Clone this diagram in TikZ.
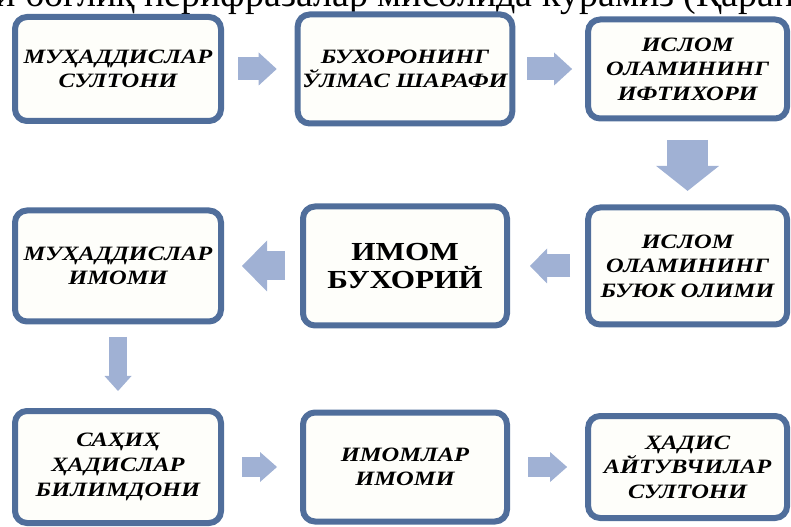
\documentclass[tikz,border=0pt]{standalone}
\usepackage{fontspec}
\setmainfont{Liberation Serif}
\newfontfamily\boxfont[FakeStretch=1.2]{Liberation Serif}
\usetikzlibrary{arrows.meta,shadows}
\definecolor{framecol}{RGB}{80,110,155}
\definecolor{arrowcol}{RGB}{160,177,212}
\definecolor{boxfill}{RGB}{254,254,250}

\begin{document}
\begin{tikzpicture}[
  card/.style={draw=framecol,line width=0.15cm,rounded corners=0.3cm,fill=boxfill,
    drop shadow={shadow xshift=0pt,shadow yshift=-0.06cm,opacity=0.3},
    align=center,font=\boxfont\fontsize{14.5}{17.5}\selectfont\bfseries\itshape},
  pointer/.style n args={3}{draw=arrowcol,line width=#1,-{Triangle[width=#2,length=#3,line width=0pt]}}]
\useasboundingbox (0,0) rectangle (19.775,-13.175);
\clip (0,0) rectangle (19.775,-13.175);
\node[anchor=base west,font=\fontsize{27}{32}\selectfont,inner sep=0pt] (head) at (-0.12,-0.17) {и боглиқ перифразалар мисолида курамиз (Қаранг};

\node[card,minimum width=5.15cm,minimum height=2.6cm] (sultan) at (2.95,-1.725) {МУҲАДДИСЛАР\\СУЛТОНИ};
\node[card,minimum width=5.1cm,minimum height=2.725cm] (sharaf) at (10.125,-1.725) {БУХОРОНИНГ\\ЎЛМАС ШАРАФИ};
\node[card,minimum width=4.975cm,minimum height=2.475cm] (iftixor) at (17.19,-1.725) {ИСЛОМ\\ОЛАМИНИНГ\\ИФТИХОРИ};
\node[card,minimum width=4.975cm,minimum height=2.925cm] (olim) at (17.19,-6.65) {ИСЛОМ\\ОЛАМИНИНГ\\БУЮК ОЛИМИ};
\node[card,minimum width=5.1cm,minimum height=2.975cm,font=\boxfont\fontsize{18.5}{20}\selectfont\bfseries] (buxoriy) at (10.125,-6.65) {ИМОМ\\БУХОРИЙ};
\node[card,minimum width=5.15cm,minimum height=2.775cm] (imom) at (2.95,-6.65) {МУҲАДДИСЛАР\\ИМОМИ};
\node[card,minimum width=5.15cm,minimum height=2.8cm] (bilimdon) at (2.95,-11.675) {САҲИҲ\\ҲАДИСЛАР\\БИЛИМДОНИ};
\node[card,minimum width=5.1cm,minimum height=2.725cm] (imomlar) at (10.125,-11.675) {ИМОМЛАР\\ИМОМИ};
\node[card,minimum width=4.975cm,minimum height=2.55cm] (hadis) at (17.19,-11.675) {ҲАДИС\\АЙТУВЧИЛАР\\СУЛТОНИ};

\draw[pointer={0.575cm}{0.825cm}{0.45cm},shorten <=0.35cm,shorten >=0.45cm] (sultan) -- (sharaf);
\draw[pointer={0.575cm}{0.825cm}{0.45cm},shorten <=0.3cm,shorten >=0.325cm] (sharaf) -- (iftixor);
\draw[pointer={1.025cm}{1.575cm}{0.625cm},shorten <=0.46cm,shorten >=0.34cm] (iftixor) -- (olim);
\draw[pointer={0.575cm}{0.875cm}{0.425cm},shorten <=0.375cm,shorten >=0.5cm] (olim) -- (buxoriy);
\draw[pointer={0.725cm}{1.275cm}{0.625cm},shorten <=0.375cm,shorten >=0.45cm] (buxoriy) -- (imom);
\draw[pointer={0.45cm}{0.675cm}{0.375cm},shorten <=0.31cm,shorten >=0.425cm] (imom) -- (bilimdon);
\draw[pointer={0.5cm}{0.75cm}{0.425cm},shorten <=0.45cm,shorten >=0.575cm] (bilimdon) -- (imomlar);
\draw[pointer={0.5cm}{0.75cm}{0.425cm},shorten <=0.45cm,shorten >=0.45cm] (imomlar) -- (hadis);
\end{tikzpicture}
\end{document}
